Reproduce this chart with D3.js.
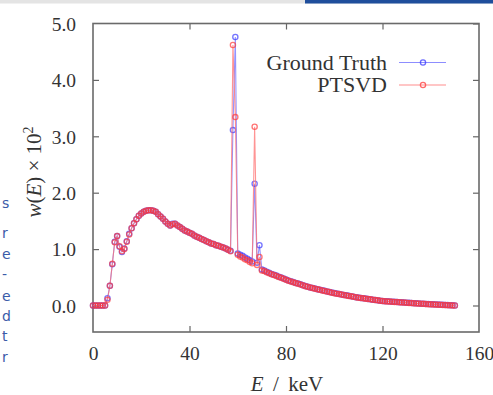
<!DOCTYPE html>
<html><head><meta charset="utf-8">
<script src="https://cdn.jsdelivr.net/npm/d3@7/dist/d3.min.js"></script>
<style>body{margin:0;background:#fff}svg{display:block}</style>
</head><body>
<svg id="c" width="493" height="395"></svg>
<script>
// Energy grid (keV)
const energies = d3.range(0, 151, 1);
// Ground truth spectrum w(E) x 10^2
const groundTruth = [
 0,0,0,0,0,0,0.13,0.35,0.73,1.13,
 1.23,1.04,0.95,1.01,1.14,1.27,1.37,1.46,1.53,1.59,
 1.63,1.66,1.68,1.69,1.69,1.68,1.66,1.62,1.58,1.54,
 1.49,1.45,1.42,1.45,1.45,1.42,1.39,1.36,1.33,1.31,
 1.29,1.27,1.24,1.22,1.20,1.18,1.16,1.14,1.12,1.10,
 1.09,1.07,1.06,1.04,1.03,1.01,0.99,0.97,3.11,4.76,
 0.92,0.90,0.88,0.85,0.83,0.80,0.78,2.16,0.76,1.07,
 0.64,0.62,0.60,0.58,0.56,0.545,0.53,0.51,0.495,0.48,
 0.46,0.445,0.43,0.415,0.40,0.39,0.375,0.36,0.345,0.333,
 0.32,0.31,0.30,0.29,0.28,0.27,0.26,0.25,0.24,0.23,
 0.22,0.212,0.204,0.196,0.188,0.18,0.172,0.164,0.156,0.148,
 0.14,0.134,0.128,0.122,0.116,0.11,0.104,0.098,0.092,0.086,
 0.08,0.077,0.074,0.071,0.068,0.065,0.062,0.059,0.056,0.053,
 0.05,0.047,0.044,0.041,0.038,0.036,0.033,0.030,0.028,0.025,
 0.022,0.020,0.018,0.016,0.013,0.011,0.009,0.007,0.005,0.003,
 0.001];
// PTSVD reconstruction
const ptsvd = [
 0,0,0,0,0,0,0.10,0.35,0.74,1.12,
 1.23,1.05,0.96,1.00,1.13,1.26,1.37,1.46,1.53,1.59,
 1.63,1.66,1.68,1.69,1.69,1.68,1.66,1.62,1.58,1.54,
 1.49,1.45,1.42,1.44,1.45,1.42,1.39,1.36,1.33,1.31,
 1.29,1.27,1.24,1.22,1.20,1.18,1.16,1.14,1.12,1.10,
 1.09,1.07,1.06,1.04,1.03,1.01,0.99,0.96,4.62,3.34,
 0.90,0.87,0.85,0.82,0.80,0.77,0.75,3.17,0.72,0.86,
 0.62,0.61,0.59,0.57,0.555,0.54,0.525,0.505,0.49,0.475,
 0.455,0.44,0.425,0.41,0.397,0.385,0.372,0.358,0.343,0.331,
 0.318,0.308,0.298,0.288,0.278,0.268,0.258,0.248,0.238,0.228,
 0.218,0.21,0.202,0.194,0.186,0.178,0.17,0.162,0.154,0.146,
 0.139,0.133,0.127,0.121,0.115,0.109,0.103,0.097,0.091,0.085,
 0.079,0.076,0.073,0.070,0.067,0.064,0.061,0.058,0.055,0.052,
 0.049,0.046,0.043,0.040,0.037,0.035,0.032,0.029,0.027,0.024,
 0.021,0.019,0.017,0.015,0.012,0.010,0.008,0.006,0.004,0.002,
 0.0];
const xTicks = [0, 40, 80, 120, 160];
const yTicks = [0, 1, 2, 3, 4, 5];
const seriesNames = ["Ground Truth", "PTSVD"];

const svg = d3.select("#c");
const L = 93, R = 479, T = 23.5, B = 332;
const x = d3.scaleLinear().domain([0, 160]).range([L, R]);
const y = d3.scaleLinear().domain([-0.47, 5.0]).range([B, T]);
const serif = "'Liberation Serif','DejaVu Serif',serif";
const ink = "#333";

// page fragments of the screenshot
svg.append("rect").attr("x",0).attr("y",0).attr("width",493).attr("height",3.5).attr("fill","#e4e4e4");
svg.append("rect").attr("x",305).attr("y",0).attr("width",188).attr("height",3.5).attr("fill","#1f4e9c");
const frag = [["s",208],["r",238],["e",259],["-",279],["e",301],["d",321],["t",341],["r",362]];
svg.append("g").selectAll("text").data(frag).join("text")
  .attr("x",2).attr("y",d=>d[1]).text(d=>d[0])
  .attr("font-family","'DejaVu Sans',sans-serif").attr("font-size",14).attr("fill","#3b5ba8");

// axes
const gx = svg.append("g").attr("transform",`translate(0,${B})`)
  .call(d3.axisBottom(x).tickValues(xTicks).tickFormat(d3.format("d")).tickSizeInner(-6).tickSizeOuter(0).tickPadding(14));
const gxt = svg.append("g").attr("transform",`translate(0,${T})`)
  .call(d3.axisTop(x).tickValues(xTicks).tickFormat("").tickSizeInner(-6).tickSizeOuter(0));
const gy = svg.append("g").attr("transform",`translate(${L},0)`)
  .call(d3.axisLeft(y).tickValues(yTicks).tickFormat(d3.format(".1f")).tickSizeInner(-6).tickSizeOuter(0).tickPadding(17));
const gyr = svg.append("g").attr("transform",`translate(${R},0)`)
  .call(d3.axisRight(y).tickValues(yTicks).tickFormat("").tickSizeInner(-6).tickSizeOuter(0));
[gx,gxt,gy,gyr].forEach(g=>{
  g.select(".domain").remove();
  g.selectAll(".tick line").attr("stroke","#666").attr("stroke-width",1.2);
  g.selectAll("text").attr("font-family",serif).attr("font-size",19.5).attr("fill",ink);
});
gx.selectAll(".tick").filter(d=>d===0||d===160).select("line").remove();
gxt.selectAll(".tick").filter(d=>d===0||d===160).select("line").remove();
gy.selectAll(".tick").filter(d=>d===5).select("line").remove();
gy.selectAll("text").attr("dy","0.35em");
svg.append("rect").attr("x",L).attr("y",T).attr("width",R-L).attr("height",B-T)
  .attr("fill","none").attr("stroke","#6a6a6a").attr("stroke-width",1.6);

// series
const series = [
  {name: seriesNames[0], vals: groundTruth, color: "#3a3aff", line: "#7070ff"},
  {name: seriesNames[1], vals: ptsvd, color: "#ff3a3a", line: "#ff7070"}
];
const lineGen = d3.line().x((d,i)=>x(energies[i])).y(d=>y(d));
series.forEach(s=>{
  svg.append("path").datum(s.vals).attr("d",lineGen)
    .attr("fill","none").attr("stroke",s.line).attr("stroke-width",1.1).attr("stroke-opacity",0.75);
  svg.append("g").selectAll("circle").data(s.vals).join("circle")
    .attr("cx",(d,i)=>x(energies[i])).attr("cy",d=>y(d)).attr("r",2.6)
    .attr("fill","none").attr("stroke",s.color).attr("stroke-width",1.3).attr("stroke-opacity",0.7);
});

// legend
const leg = svg.append("g");
series.forEach((s,i)=>{
  const cy = 62.5 + i*22.5;
  leg.append("text").attr("x",387).attr("y",cy).attr("dy","0.33em").attr("text-anchor","end")
    .attr("font-family",serif).attr("font-size",22).attr("fill",ink).text(s.name);
  leg.append("line").attr("x1",399).attr("x2",446).attr("y1",cy).attr("y2",cy)
    .attr("stroke",s.line).attr("stroke-width",1.1).attr("stroke-opacity",0.8);
  leg.append("circle").attr("cx",423).attr("cy",cy).attr("r",2.6)
    .attr("fill","none").attr("stroke",s.color).attr("stroke-width",1.3).attr("stroke-opacity",0.75);
});

// axis labels
const xl = svg.append("text").attr("x",287).attr("y",391).attr("text-anchor","middle")
  .attr("font-family",serif).attr("font-size",21).attr("fill",ink);
xl.append("tspan").attr("font-style","italic").text("E");
xl.append("tspan").text(" \u2009/\u2009 keV");
const yl = svg.append("text").attr("transform","translate(41,172) rotate(-90)").attr("text-anchor","middle")
  .attr("font-family",serif).attr("font-size",21).attr("fill",ink);
yl.append("tspan").attr("font-style","italic").text("w");
yl.append("tspan").text("(");
yl.append("tspan").attr("font-style","italic").text("E");
yl.append("tspan").text(") \u00d7 10");
yl.append("tspan").attr("font-size",14).attr("dy","-8").text("2");
</script>
</body></html>
